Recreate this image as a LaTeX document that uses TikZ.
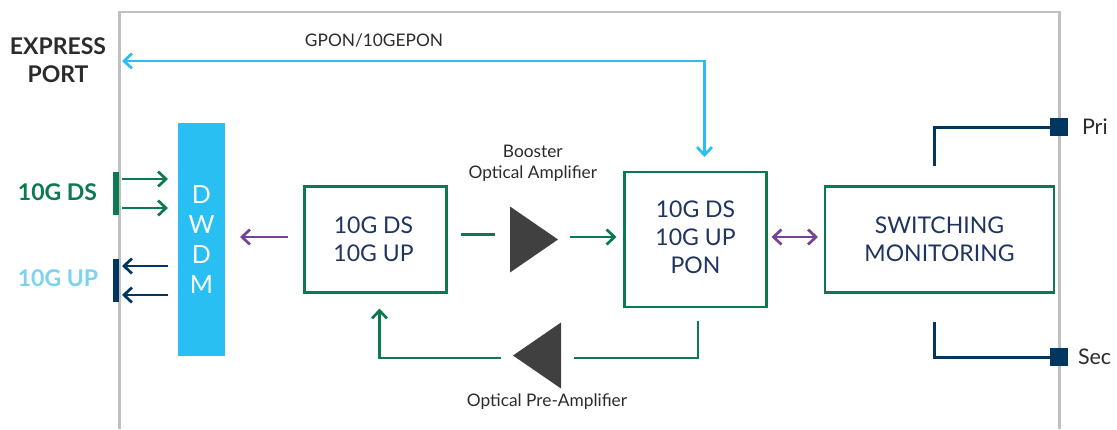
\documentclass[tikz,border=0pt]{standalone}
\usepackage{fontspec}
\setmainfont{Lato}
\usetikzlibrary{arrows.meta, positioning, shapes.geometric}
\definecolor{framegray}{HTML}{C0C0C4}
\definecolor{pongreen}{HTML}{0B7A4F}
\definecolor{navyline}{HTML}{00365F}
\definecolor{navytext}{HTML}{1F3460}
\definecolor{skyblue}{HTML}{29BFF2}
\definecolor{paleblue}{HTML}{7AD4F0}
\definecolor{purpleline}{HTML}{744296}
\definecolor{ampgray}{HTML}{404040}
\definecolor{inktext}{HTML}{2B2B2E}

\begin{document}
\begin{tikzpicture}[
  x=1pt, y=-1pt,
  every node/.style = {font=\fontsize{17.3}{21}\selectfont, text=inktext, align=center, inner sep=0pt, outer sep=0pt},
  block/.style = {
    draw=pongreen,
    line width=2.7pt,
    font=\fontsize{23}{27.7}\selectfont,
    text=navytext
  },
  amp/.style = {
    isosceles triangle,
    isosceles triangle stretches,
    fill=ampgray,
    minimum height=48pt,
    minimum width=66pt
  },
  portlabel/.style = {font=\bfseries\fontsize{23}{28}\selectfont},
  portbar/.style = {minimum width=6pt, minimum height=43pt},
  portsquare/.style = {fill=navyline, minimum width=18pt, minimum height=18pt},
  conn/.style = {line width=2.7pt},
  tip/.style = {-{Straight Barb[length=8pt, width=15pt]}},
  tips/.style = {{Straight Barb[length=8pt, width=15pt]}-{Straight Barb[length=8pt, width=15pt]}}
]
\useasboundingbox (0,0) rectangle (1117,429);

\draw[framegray, line width=2.7pt] (119.5,429) -- (119.5,12) -- (1059.5,12) -- (1059.5,429);

\node[fill=skyblue, minimum width=47pt, minimum height=233pt, text=white,
      font=\fontsize{25}{29.8}\selectfont] (dwdm) at (201.5,239.5) {D\\W\\D\\M};
\node[block, minimum width=142pt, minimum height=106pt, right=79.5pt of dwdm] (lineblock) {10G DS\hspace*{4pt}\\10G UP\hspace*{4pt}};
\node[amp, right=63.5pt of lineblock] (booster) {};
\node[block, minimum width=142pt, minimum height=135pt, right=178pt of lineblock] (ponblock) {10G DS\\10G UP\\PON\rule[-5pt]{0pt}{1pt}};
\node[block, minimum width=229pt, minimum height=106pt, right=58.5pt of ponblock] (switchblock) {SWITCHING\\MONITORING};
\node[amp, shape border rotate=180, anchor=lower side] (preamp) at (561,355.5) {};

\node[above=37pt of booster, xshift=5.5pt] (boosterlabel) {Booster\\Optical Amplifier};
\node (preamplabel) at (547,402) {Optical Pre-Amplifier};

\node[portlabel] (express) at (58,60.5) {EXPRESS\\PORT};
\node[portlabel, text=pongreen] (dslabel) at (57.5,192) {10G DS};
\node[portlabel, text=paleblue] (uplabel) at (58,278) {10G UP};
\node (gponlabel) at (374,40.5) {GPON/10GEPON};

\node[portbar, fill=pongreen] (dsbar) at (116,193.5) {};
\node[portbar, fill=navyline] (upbar) at (116,280.5) {};
\node[portsquare] (prisquare) at (1059,127) {};
\node[portsquare] (secsquare) at (1059,357) {};
\node[font=\fontsize{21.5}{23}\selectfont, right=14pt of prisquare] (prilabel) {Pri};
\node[font=\fontsize{21.5}{23}\selectfont, right=10pt of secsquare] (seclabel) {Sec};

\coordinate (dsa) at ([yshift=14.5pt]dsbar.east);
\coordinate (dsb) at ([yshift=-14.5pt]dsbar.east);
\coordinate (upa) at ([yshift=14.5pt]upbar.east);
\coordinate (upb) at ([yshift=-14.5pt]upbar.east);
\coordinate (expressend) at (119,61);
\coordinate (gponturn) at (704.5,61);

\draw[conn, tip, pongreen, shorten <=3pt, shorten >=10pt] (dsa) -- (dsa -| dwdm.west);
\draw[conn, tip, pongreen, shorten <=3pt, shorten >=10pt] (dsb) -- (dsb -| dwdm.west);
\draw[conn, tip, navyline, shorten <=10pt, shorten >=3pt] (upa -| dwdm.west) -- (upa);
\draw[conn, tip, navyline, shorten <=10pt, shorten >=3pt] (upb -| dwdm.west) -- (upb);

\draw[conn, tip, purpleline, shorten <=17pt, shorten >=15pt] ([yshift=2.5pt]lineblock.west) -- ([yshift=2.5pt]dwdm.east);
\draw[conn, pongreen, shorten <=14pt, shorten >=15pt] ([yshift=5pt]lineblock.east) -- ([yshift=5pt]lineblock.east -| booster.west);
\draw[conn, tip, pongreen, shorten <=12pt, shorten >=8pt] ([yshift=2.5pt]booster.apex -| booster.apex) -- ([yshift=2.5pt]ponblock.west);
\draw[conn, purpleline, tips, shorten <=5pt, shorten >=7pt] ([yshift=2.5pt]ponblock.east) -- ([yshift=2.5pt]switchblock.west);

\draw[conn, pongreen, shorten <=14pt, shorten >=13pt] ([xshift=2.5pt]ponblock.south) |- ([yshift=-2.5pt]preamp.lower side);
\draw[conn, tip, pongreen, shorten <=12pt, shorten >=16pt] ([yshift=-2.5pt]preamp.apex) -| ([xshift=4pt]lineblock.south);

\draw[conn, skyblue, tips, shorten <=3pt, shorten >=15pt] (expressend) -- (gponturn) -- (gponturn |- ponblock.north);

\draw[conn, navyline, line width=3pt, shorten <=21pt] ([xshift=-5pt]switchblock.north) |- (prisquare.west);
\draw[conn, navyline, line width=3pt, shorten <=29pt] ([xshift=-5pt]switchblock.south) |- (secsquare.west);

\end{tikzpicture}
\end{document}
